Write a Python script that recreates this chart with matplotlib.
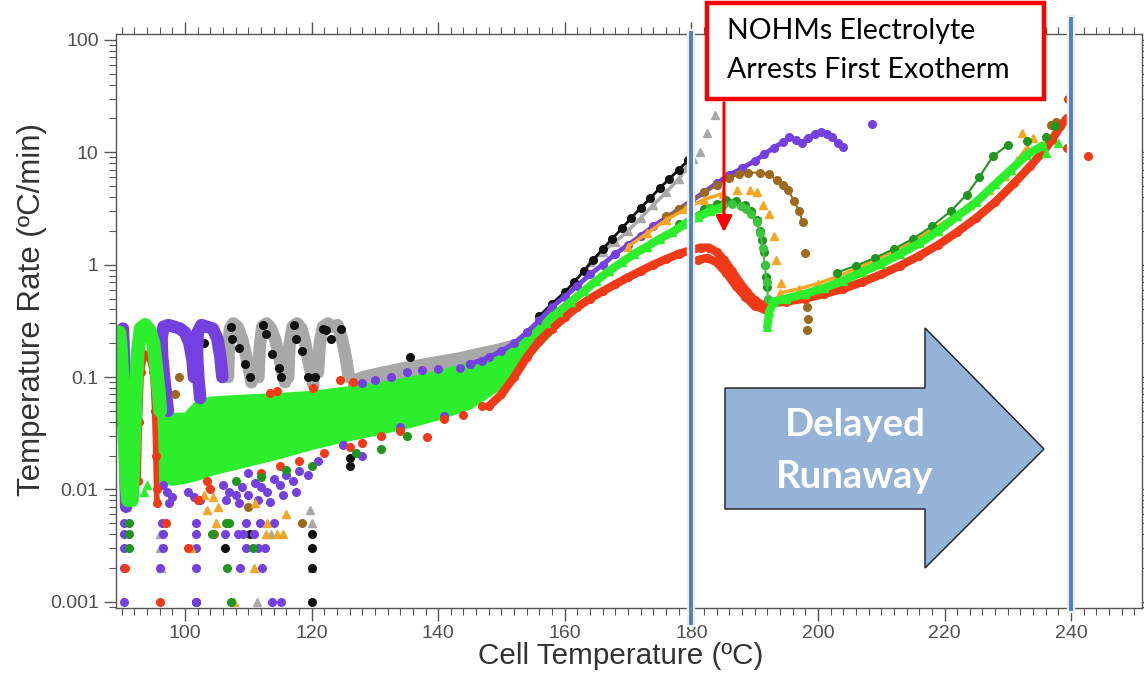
import numpy as np
import matplotlib
matplotlib.use("Agg")
import matplotlib.pyplot as plt
from matplotlib.patches import Polygon, Rectangle, FancyArrowPatch
from matplotlib.ticker import FixedLocator, MultipleLocator, LogLocator, NullFormatter

N = None  # segment break

# ---- purple (circles) ----
purple_cx = [90.2, 90.3, 90.4, 90.5, 90.6, 90.6, 90.7, N,
             97.3, 97.0, 96.7, 96.4, 96.3, 96.6, 97.4, 98.3, 99.2, 100.0, 100.7, 101.2, 101.4, N,
             102.4, 102.1, 101.9, 102.0, 102.6, 103.5, 104.4, 105.1, 105.6, 105.9]
purple_cy = [0.27, 0.18, 0.1, 0.05, 0.025, 0.013, 0.007, N,
             0.05, 0.07, 0.1, 0.15, 0.22, 0.28, 0.29, 0.28, 0.27, 0.25, 0.2, 0.14, 0.1, N,
             0.065, 0.1, 0.16, 0.25, 0.29, 0.28, 0.27, 0.22, 0.15, 0.1]
purple_tx = [145, 148, 150, 152, 154, 156, 158, 160, 162, 164, 166, 168, 170, 172, 174, 176, 178, 180,
             182, 184, 186, 188, 190, 191.5, 193, 194.5, 195.5, 196.5, 197.5, 198.5, 199.5, 200.5,
             201.5, 202.3, 203.2, 204]
purple_ty = [0.13, 0.15, 0.17, 0.2, 0.25, 0.32, 0.42, 0.52, 0.65, 0.82, 1.0, 1.25, 1.5, 1.8, 2.2, 2.6, 3.1, 3.7,
             4.4, 5.3, 6.3, 7.2, 8.4, 9.6, 11.0, 12.3, 13.7, 12.8, 12.2, 13.5, 14.5, 15.2,
             14.6, 13.7, 12.0, 11.2]
purple_dx = [208.5, 128, 130, 132.5, 135, 137.5, 140, 143.4, 145, 147,
             110, 121, 125, 128, 134, 141,
             96.5, 97.2, 98.0, 97.5, 100.5, 101.5, 102.3, 106, 107, 108, 109, 110, 111, 112, 113,
             114, 115, 116, 117, 118, 119.5, 106.5, 108.5, 111.5, 113.5, 115.5, 117.5,
             90.3, 90.3, 90.3, 90.3, 90.3, 96.1, 96.5, 96.5, 96.3, 101.7, 101.7, 101.7, 101.7, 101.7,
             108.7, 109.7, 112.2, 112.7, 113.7, 115.1, 106.3, 108.3, 109.2, 110.9, 109.7, 111.6, 111.8, 114]
purple_dy = [18, 0.088, 0.095, 0.1, 0.11, 0.115, 0.118, 0.12, 0.13, 0.14,
             0.014, 0.018, 0.025, 0.02, 0.036, 0.045,
             0.011, 0.0095, 0.0085, 0.0075, 0.0095, 0.0085, 0.008, 0.011, 0.0095, 0.009, 0.0105, 0.009,
             0.0115, 0.0105, 0.0095, 0.0125, 0.011, 0.0135, 0.012, 0.0145, 0.0135, 0.008, 0.0075, 0.008,
             0.0078, 0.009, 0.0095,
             0.001, 0.002, 0.003, 0.004, 0.005, 0.002, 0.003, 0.004, 0.005, 0.001, 0.002, 0.003, 0.004, 0.005,
             0.002, 0.003, 0.002, 0.003, 0.001, 0.001, 0.004, 0.004, 0.004, 0.004, 0.005, 0.003, 0.005, 0.005]

# ---- grey (triangles) ----
grey_cx = [106.8, 106.9, 107.1, 107.6, 108.3, 109.0, 109.6, 110.1, 110.5, N,
           111.6, 111.8, 112.2, 112.9, 113.6, 114.3, 114.9, 115.4, 115.8, N,
           116.3, 116.5, 117.0, 117.7, 118.4, 119.0, 119.5, 119.9, 120.3, N,
           121.0, 121.3, 121.8, 122.6, 123.3, 124.1, 124.8, 125.4, 125.9]
grey_cy = [0.1, 0.17, 0.27, 0.3, 0.28, 0.22, 0.16, 0.12, 0.09, N,
           0.1, 0.18, 0.28, 0.3, 0.27, 0.21, 0.15, 0.11, 0.09, N,
           0.1, 0.19, 0.28, 0.3, 0.27, 0.2, 0.14, 0.11, 0.085, N,
           0.11, 0.2, 0.28, 0.3, 0.28, 0.29, 0.22, 0.15, 0.1]
grey_tx = [164, 166, 168, 170, 172, 174, 176, 178, 179.2]
grey_ty = [1.05, 1.3, 1.6, 2.0, 2.6, 3.4, 4.4, 5.8, 7.2]
grey_dx = [180.3, 181.3, 182.4, 183.7, 96.1, 96.1, 96.2, 111.3, 113.6, 120, 120, 119.8]
grey_dy = [8.8, 10, 14.9, 21.6, 0.003, 0.004, 0.002, 0.001, 0.004, 0.005, 0.002, 0.0065]
grey_band_x = [126, 128, 131, 134, 137, 140, 143, 146, 149, 152]
grey_band_top = [0.1, 0.11, 0.12, 0.13, 0.14, 0.15, 0.16, 0.175, 0.19, 0.21]
grey_band_bot = [0.075, 0.08, 0.085, 0.09, 0.095, 0.105, 0.115, 0.13, 0.15, 0.17]

# ---- black (circles) ----
black_tx = [156, 158, 160, 161.5, 163, 164.5, 166, 167.5, 169, 170.5, 172, 173.5, 175, 176.5, 178, 179.5]
black_ty = [0.35, 0.45, 0.57, 0.7, 0.88, 1.1, 1.38, 1.7, 2.1, 2.6, 3.2, 3.9, 4.8, 5.8, 7.0, 8.5]
black_dx = [107.5, 108.5, 109.5, 110.2, 112.8, 113.8, 114.8, 115.2, 117.5, 118.5, 119.4, 120.5,
            121.8, 122.3, 123, 102.3, 103, 135.5, 126, 126, 89.8, 89.8,
            101.7, 106.3, 110.2, 120, 120, 120, 120, 107.2, 112.4, 117.2, 124.6]
black_dy = [0.22, 0.18, 0.13, 0.1, 0.24, 0.16, 0.12, 0.1, 0.22, 0.17, 0.1, 0.1,
            0.27, 0.26, 0.22, 0.26, 0.2, 0.15, 0.019, 0.016, 0.04, 0.07,
            0.001, 0.003, 0.004, 0.001, 0.002, 0.003, 0.004, 0.28, 0.29, 0.29, 0.27]

# ---- brown (circles) ----
brown_tx = [176, 178, 180, 182, 184, 186, 187.6, 189, 190.8, 192.2, 193.5, 194.5, 195.3, 196.2, 197, 197.6]
brown_ty = [2.7, 3.1, 3.7, 4.4, 5.1, 5.9, 6.4, 6.6, 6.6, 6.4, 5.7, 5.1, 4.6, 3.7, 3.0, 2.4]
brown_dx = [197.9, 198.2, 198.4, 198.3, 237.6, 236.8, 104.6, 118.5, 99, 98.5, 110]
brown_dy = [1.27, 0.42, 0.33, 0.26, 18.6, 17.5, 0.004, 0.005, 0.1, 0.07, 0.007]

# ---- orange (triangles) ----
orange_tx = [170, 173, 176, 179, 182, 185, N,
             194, 197, 200, 203, 206, 209, 212, 215, 218, 221, 224, 227, 229.5, 231.5, 233]
orange_ty = [1.45, 1.9, 2.5, 3.1, 3.8, 4.3, N,
             0.56, 0.61, 0.68, 0.78, 0.92, 1.1, 1.32, 1.62, 2.05, 2.6, 3.4, 4.6, 6.2, 8.5, 11]
orange_dx = [187.2, 189.2, 190.3, 191.3, 192.3, 193.1, 193.4, 194.2, 232.3, 234,
             100.9, 104.9, 107.7, 110.9, 112.8, 114.5, 115.5, 113,
             103, 103.8, 104.5, 105.2, 103.5, 111, 116]
orange_dy = [4.6, 4.6, 4.4, 3.4, 2.8, 1.8, 1.1, 0.69, 15, 13.5,
             0.003, 0.005, 0.001, 0.002, 0.004, 0.004, 0.004, 0.005,
             0.009, 0.011, 0.0085, 0.007, 0.0065, 0.0075, 0.006]

# ---- dark green (circles) ----
dkgreen_tx = [178, 180, 182, 184, 185.5, 187, 188.5, N,
              203, 206, 209, 212, 215, 218, 221, 223.5, 225.5, 227.6, 230]
dkgreen_ty = [2.3, 2.7, 3.1, 3.5, 3.8, 3.7, 3.4, N,
              0.85, 0.98, 1.15, 1.38, 1.7, 2.2, 3.0, 4.2, 6.0, 9.2, 11.6]
dkgreen_dx = [189.5, 190.3, 190.8, 191.1, 191.4, 191.6, 191.8, 191.9, 233, 236, 237.5,
              91.2, 91.2, 91.2, 104.3, 106.5, 107, 106.7, 107.2, 110.7,
              108, 112, 116, 120, 127, 131, 135]
dkgreen_dy = [3.0, 2.5, 2.0, 1.66, 1.3, 1.0, 0.78, 0.63, 12.5, 13.7, 17,
              0.003, 0.004, 0.005, 0.004, 0.005, 0.005, 0.002, 0.001, 0.003,
              0.012, 0.013, 0.015, 0.016, 0.021, 0.023, 0.03]

# ---- medium green (circles) ----
medgreen_tx = [183, 185, 186.5, 187.8, 188.7, 189.5, 190.3, 190.9, 191.3, 191.6, 191.9, 192.1]
medgreen_ty = [3.2, 3.4, 3.5, 3.3, 3.1, 2.8, 2.4, 1.9, 1.4, 1.0, 0.7, 0.5]

# ---- lime (triangles) ----
lime_cx = [89.6, 89.8, 90.0, 90.2, 90.4, 90.6, 90.8, 91.0, N,
           91.6, 91.8, 92.0, 92.2, 92.5, 93.0, 93.7, 94.4, 95.0, 95.4, 95.8, 96.1]
lime_cy = [0.25, 0.2, 0.13, 0.07, 0.035, 0.018, 0.011, 0.008, N,
           0.008, 0.015, 0.03, 0.07, 0.16, 0.27, 0.29, 0.26, 0.2, 0.13, 0.08, 0.05]
lime_tx = [157, 159, 161, 163, 165, 167, 169, 171, 173, 175, 177, 179, 181, 183, 184.5, N,
           192, 192.3, 193, 195, 198, 201, 204, 207, 210, 213, 216, 219, 222, 225, 228, 230.5, 233, 235.5]
lime_ty = [0.3, 0.38, 0.47, 0.58, 0.72, 0.88, 1.05, 1.25, 1.45, 1.7, 1.95, 2.3, 2.65, 3.0, 3.2, N,
           0.28, 0.38, 0.47, 0.5, 0.55, 0.62, 0.72, 0.86, 1.02, 1.25, 1.55, 2.0, 2.7, 3.6, 5.2, 7.0, 9.5, 11.5]
lime_dx = [236, 238, 91.5, 92, 93.5, 94]
lime_dy = [9.9, 12, 0.0085, 0.012, 0.0095, 0.011]
lime_band_x = [96, 98, 100, 102, 104, 106, 110, 115, 120, 125, 130, 135, 140, 145, 150, 153, 156, 158]
lime_band_lo = [0.012, 0.0115, 0.012, 0.0128, 0.014, 0.015, 0.017, 0.020, 0.024, 0.028, 0.032,
                0.037, 0.044, 0.055, 0.085, 0.13, 0.2, 0.26]
lime_band_hi = [0.05, 0.046, 0.046, 0.06, 0.064, 0.065, 0.067, 0.069, 0.072, 0.078, 0.085,
                0.095, 0.11, 0.13, 0.16, 0.21, 0.30, 0.38]

# ---- red (circles) ----
red_cx = [92.6, 92.8, 93.1, 93.6, 94.3, 94.9, 95.2, 95.4, 95.5, 95.6]
red_cy = [0.012, 0.04, 0.11, 0.16, 0.15, 0.11, 0.05, 0.02, 0.01, 0.0075]
red_tx = [148, 150, 152, 154, 156, 158, 160, 162, 164, 166, 168, 170, 172, 174, 176, 178, 180,
          181.5, 182.8, 184, 185.2, 186.4, 187.6, 188.8, 190, 191.2, 192.4, N,
          181, 182.5, 184, 185.5, 187, 188.5, 190, 191.5, N,
          192.5, 195, 198, 201, 204, 207, 210, 213, 216, 219, 222, 225, 228, 231, 233.5, 235.5,
          237, 238.3, 239.3]
red_ty = [0.055, 0.07, 0.1, 0.15, 0.21, 0.27, 0.34, 0.42, 0.5, 0.58, 0.67, 0.77, 0.88, 1.0, 1.12, 1.25, 1.35,
          1.42, 1.42, 1.3, 1.1, 0.88, 0.7, 0.57, 0.48, 0.44, 0.45, N,
          1.1, 1.15, 1.05, 0.85, 0.65, 0.52, 0.43, 0.4, N,
          0.45, 0.47, 0.5, 0.55, 0.61, 0.7, 0.82, 0.98, 1.2, 1.5, 1.95, 2.6, 3.6, 5.3, 7.5, 10,
          13, 17, 20]
red_dx = [239.5, 239.3, 242.6, 90, 90.6, 96.0, 100.5, 97,
          112, 115, 118, 122, 126, 128, 131, 134, 138.2, 141, 144, 147,
          113.5, 114.5, 120.2, 124.5, 126.5, 102, 104, 103.5]
red_dy = [30, 11, 9.2, 0.25, 0.002, 0.001, 0.003, 0.005,
          0.014, 0.016, 0.018, 0.021, 0.024, 0.026, 0.03, 0.033, 0.0295, 0.042, 0.046, 0.055,
          0.072, 0.075, 0.08, 0.095, 0.09, 0.008, 0.01, 0.012]

W, H = 1144, 683
fig = plt.figure(figsize=(W / 100, H / 100), dpi=100)
ax = fig.add_axes([116 / W, 1 - 608 / H, (1142 - 116) / W, (608 - 34) / H])

def arr(v):
    return np.array([np.nan if a is None else a for a in v], dtype=float)

def trace(x, y, color, marker, lw, ms=5.5):
    ax.plot(arr(x), arr(y), color=color, lw=lw, marker=marker, ms=ms, mec=color,
            solid_capstyle='round', solid_joinstyle='round')

def dots(x, y, color, marker, ms=5.5):
    ax.plot(x, y, ls='none', color=color, marker=marker, ms=ms, mec=color)

GREY, BLACK, PURPLE, BROWN = '#A8A8A8', '#111111', '#7440E0', '#9C6A1F'
ORANGE, RED, DKGREEN, MEDGREEN, LIME = '#F5A623', '#F03A17', '#1F961F', '#3CC43C', '#2CEE2C'

ax.fill_between(grey_band_x, grey_band_bot, grey_band_top, color=GREY, lw=3, ec=GREY)
trace(grey_cx, grey_cy, GREY, '^', 9, 6)
trace(grey_tx, grey_ty, GREY, '^', 2.5, 6)
dots(grey_dx, grey_dy, GREY, '^', 6)
trace(black_tx, black_ty, BLACK, 'o', 2.0)
dots(black_dx, black_dy, BLACK, 'o')
trace(purple_cx, purple_cy, PURPLE, 'o', 9)
trace(purple_tx, purple_ty, PURPLE, 'o', 3.5)
dots(purple_dx, purple_dy, PURPLE, 'o')
trace(brown_tx, brown_ty, BROWN, 'o', 1.5)
dots(brown_dx, brown_dy, BROWN, 'o')
trace(orange_tx, orange_ty, ORANGE, '^', 2.5, 6)
dots(orange_dx, orange_dy, ORANGE, '^', 6)
trace(red_cx, red_cy, RED, 'o', 4)
trace(red_tx, red_ty, RED, 'o', 6)
dots(red_dx, red_dy, RED, 'o')
trace(dkgreen_tx, dkgreen_ty, DKGREEN, 'o', 1.5)
dots(dkgreen_dx, dkgreen_dy, DKGREEN, 'o')
trace(medgreen_tx, medgreen_ty, MEDGREEN, 'o', 1.5)
ax.fill_between(lime_band_x, lime_band_lo, lime_band_hi, color=LIME, lw=4, ec=LIME)
trace(lime_cx, lime_cy, LIME, '^', 10, 6)
trace(lime_tx, lime_ty, LIME, '^', 6, 6)
dots(lime_dx, lime_dy, LIME, '^', 6)

ax.set_yscale('log')
ax.set_xlim(89.1, 251.2)
ax.set_ylim(0.00088, 113)

ax.xaxis.set_minor_locator(MultipleLocator(2))
ax.set_xticks([100, 120, 140, 160, 180, 200, 220, 240])
ax.yaxis.set_major_locator(FixedLocator([0.001, 0.01, 0.1, 1, 10, 100]))
ax.set_yticklabels(['0.001', '0.01', '0.1', '1', '10', '100'])
ax.yaxis.set_minor_locator(LogLocator(base=10, subs=np.arange(2, 10)))
ax.yaxis.set_minor_formatter(NullFormatter())

ax.tick_params(which='both', direction='out', top=True, right=True, color='#555555',
               labelsize=14, labelcolor='#505050')
ax.tick_params(which='major', length=9, width=1)
ax.tick_params(which='minor', length=5, width=0.8)
for lab in ax.get_xticklabels() + ax.get_yticklabels():
    lab.set_family('Liberation Sans')
for s in ax.spines.values():
    s.set_color('#555555')
    s.set_linewidth(1.0)

ax.set_xlabel('Cell Temperature (ºC)', fontsize=21.3, family='Liberation Sans', color='#333333', labelpad=0)
ax.set_ylabel('Temperature Rate (ºC/min)', fontsize=22.5, family='Liberation Sans', color='#333333', labelpad=2)
ax.xaxis.label.set_x(0.492)
ax.yaxis.label.set_y(0.52)

# vertical marker lines
for xv, y0, y1 in [(180, -0.026, 1.002), (240, -0.002, 1.026)]:
    ax.axvline(xv, ymin=y0, ymax=y1, color='#EEEEEE', lw=6, clip_on=False, zorder=5)
    ax.axvline(xv, ymin=y0, ymax=y1, color='#4F81BD', lw=2.8, clip_on=False, zorder=6)

def fx(px):
    return px / W

def fy(py):
    return 1 - py / H

# callout box with red arrow
fig.add_artist(Rectangle((fx(707), fy(99)), fx(1044) - fx(707), fy(3) - fy(99), transform=fig.transFigure,
                         fc='white', ec='#FF0000', lw=3.2, zorder=10))
fig.text(fx(727), fy(31), 'NOHMs Electrolyte', fontsize=20.5, family='Lato', va='center', ha='left', zorder=11)
fig.text(fx(727), fy(70), 'Arrests First Exotherm', fontsize=20.5, family='Lato', va='center', ha='left', zorder=11)
fig.add_artist(FancyArrowPatch((fx(724), fy(100)), (fx(724), fy(235)), transform=fig.transFigure,
                               arrowstyle='-|>', mutation_scale=24, lw=2.2, color='#FF0000', zorder=10))

# delayed runaway block arrow
arrow_px = [(725, 388), (925, 388), (925, 328), (1044, 449), (925, 568), (925, 509), (725, 509)]
fig.add_artist(Polygon([(fx(a), fy(b)) for a, b in arrow_px], closed=True, transform=fig.transFigure,
                       fc='#95B3D7', ec='#1A1A1A', lw=1.0, zorder=10))
fig.text(fx(855), fy(425), 'Delayed', fontsize=27.5, family='Lato', weight='bold', color='white',
         ha='center', va='center', zorder=11)
fig.text(fx(855), fy(477), 'Runaway', fontsize=27.5, family='Lato', weight='bold', color='white',
         ha='center', va='center', zorder=11)

fig.savefig('out.png', dpi=100)
